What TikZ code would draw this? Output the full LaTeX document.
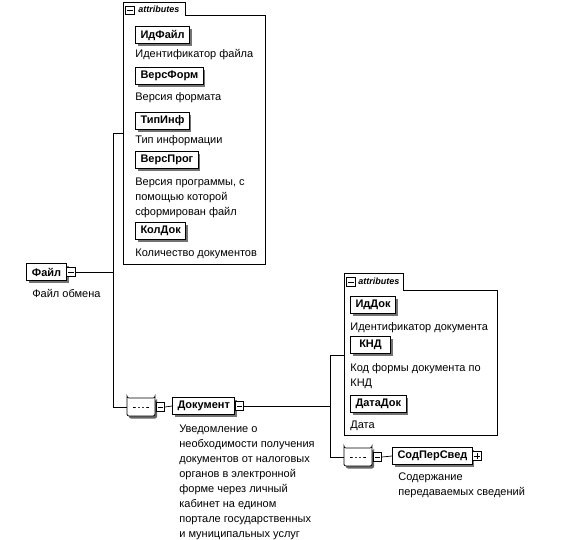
\documentclass[tikz,border=0pt]{standalone}
\usepackage{fontspec}
\setmainfont{Liberation Sans}
\usetikzlibrary{shadows,shapes.misc}

\tikzset{
  elem/.style={draw, line width=1pt, fill=white, font=\bfseries\fontsize{11}{13}\selectfont, inner xsep=5pt, inner ysep=0pt, minimum height=17pt, minimum width=40pt, anchor=west, general shadow={fill=black!55, shadow xshift=2pt, shadow yshift=-2.5pt}},
  desc/.style={font=\fontsize{11}{15}\selectfont, anchor=north west, align=left, inner sep=0pt},
  tabtext/.style={font=\bfseries\itshape\fontsize{9}{10}\selectfont, anchor=west, inner sep=0pt},
  minusbox/.style={draw, fill=white, minimum size=8.5pt, inner sep=0pt, path picture={\draw ([xshift=1.5pt]path picture bounding box.west) -- ([xshift=-1.5pt]path picture bounding box.east);}},
  plusbox/.style={draw, fill=white, minimum size=8.5pt, inner sep=0pt, path picture={\draw ([xshift=1.5pt]path picture bounding box.west) -- ([xshift=-1.5pt]path picture bounding box.east); \draw ([yshift=1.5pt]path picture bounding box.south) -- ([yshift=-1.5pt]path picture bounding box.north);}},
  seqbox/.style={chamfered rectangle, chamfered rectangle xsep=6pt, rounded corners=2pt, draw, fill=white, minimum width=28pt, minimum height=18pt, inner sep=0pt, general shadow={fill=black!60, shadow xshift=2pt, shadow yshift=-2.5pt}, path picture={\draw ([xshift=-8pt]path picture bounding box.center) -- ([xshift=8pt]path picture bounding box.center); \foreach \dx in {-4,0,4} \fill ([xshift=\dx pt]path picture bounding box.center) circle (1.6pt);}}
}

\begin{document}
\begin{tikzpicture}[x=1pt,y=-1pt,line width=0.7pt]

\useasboundingbox (0,0) rectangle (563,539);

\draw (123,264) -- (123,2) -- (185,2) -- (185,15) -- (265,15) -- (265,264) -- cycle;
\node[minusbox] (ftabm) at (130,10.5) {};
\node[tabtext] (ftab) at (138,9.5) {attributes};
\coordinate (fattr) at (123,133);

\foreach \y/\dy/\nm/\txt [count=\i] in {35/53/ИдФайл/Идентификатор файла, 75.5/97/ВерсФорм/Версия формата, 120.5/140/ТипИнф/Тип информации, 159.5/182/ВерсПрог/{Версия программы, с\\помощью которой\\сформирован файл}, 230.5/253/КолДок/Количество документов}
{
\node[elem] (fa\i) at (135,\y) {\nm};
\node[desc] (fad\i) at (135,\dy-4.5) {\txt};
}

\node[elem] (fajl) at (26,272) {Файл};
\node[minusbox] (fajlm) at ([xshift=4pt]fajl.east) {};
\node[desc] (fajld) at (32,288.5) {Файл обмена};

\coordinate (bus1a) at (113,133);
\coordinate (bus1b) at (113,407);

\node[seqbox] (seq1) at (141,407) {};
\node[minusbox] (seq1m) at ([xshift=5pt]seq1.east) {};
\node[elem] (dok) at (172,406) {Документ};
\node[minusbox] (dokm) at ([xshift=4pt]dok.east) {};
\node[desc] (dokd) at (179,424.5) {Уведомление о\\необходимости получения\\документов от налоговых\\органов в электронной\\форме через личный\\кабинет на едином\\портале государственных\\и муниципальных услуг};

\draw (fajlm.east) -- (fajlm.east -| bus1a);
\draw (fattr) -- (bus1a) -- (bus1b) -- (seq1.west);
\draw (seq1m.east) -- (dok.west);

\draw (344,435) -- (344,273) -- (403,273) -- (403,290) -- (497,290) -- (497,435) -- cycle;
\node[minusbox] (dtabm) at (351,282) {};
\node[tabtext] (dtab) at (358,281) {attributes};
\coordinate (dattr) at (344,355);

\foreach \y/\dy/\nm/\txt [count=\i] in {305/327/ИдДок/Идентификатор документа, 345/368/КНД/{Код формы документа по\\КНД}, 403.5/425/ДатаДок/Дата}
{
\node[elem] (da\i) at (350,\y) {\nm};
\node[desc] (dad\i) at (350,\dy-4.5) {\txt};
}

\coordinate (bus2a) at (330,355);
\coordinate (bus2b) at (330,457);

\node[seqbox] (seq2) at (358,457) {};
\node[minusbox] (seq2m) at ([xshift=5pt]seq2.east) {};
\node[elem] (svd) at (392,456) {СодПерСвед};
\node[plusbox] (svdp) at ([xshift=4pt]svd.east) {};
\node[desc] (svdd) at (398,472.5) {Содержание\\передаваемых сведений};

\draw (dokm.east) -- (dokm.east -| bus2a);
\draw (dattr) -- (bus2a) -- (bus2b) -- (seq2.west);
\draw (seq2m.east) -- (svd.west);

\end{tikzpicture}
\end{document}
